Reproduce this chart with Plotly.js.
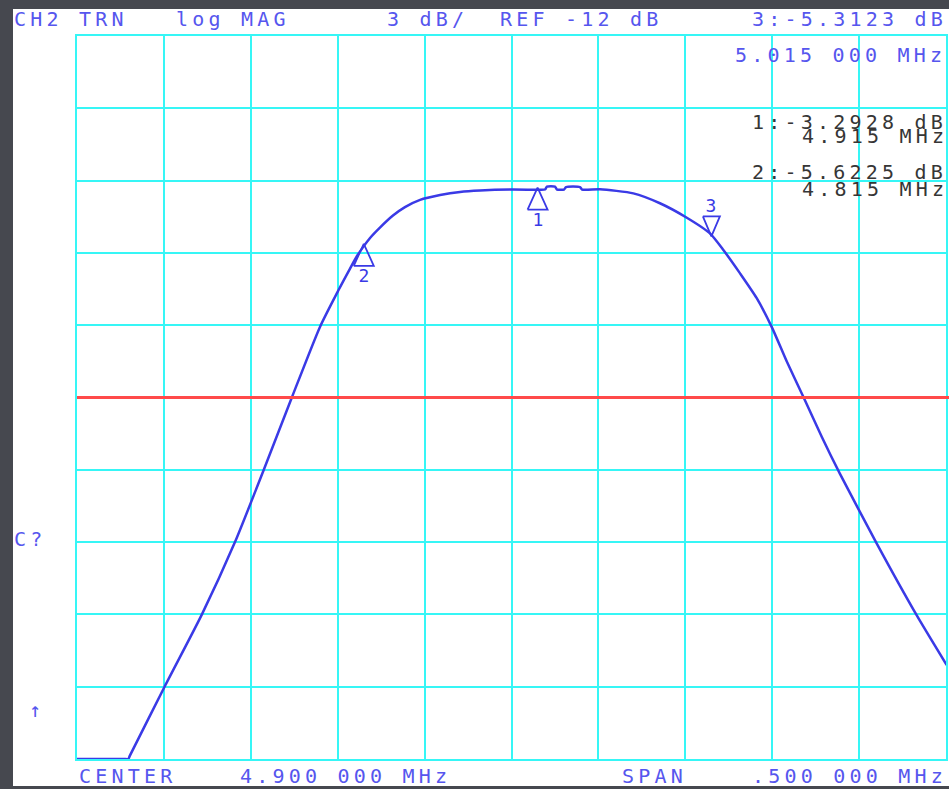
<!DOCTYPE html>
<html>
<head>
<meta charset="utf-8">
<script src="https://cdn.plot.ly/plotly-3.0.1.min.js"></script>
<style>
html,body{margin:0;padding:0;background:#46484f;width:949px;height:789px;overflow:hidden;}
#chart{position:absolute;left:13px;top:9px;width:936px;height:777px;}
.annotation-text{letter-spacing:4.2px;}
</style>
</head>
<body>
<div id="chart"></div>
<script>
const freqMHz = [4.6500, 4.6770, 4.6795, 4.6805, 4.7006, 4.7218, 4.7409, 4.7572, 4.7735, 4.7898, 4.8002,
  4.8071, 4.8111, 4.8146, 4.8186, 4.8243, 4.8318, 4.8387, 4.8474, 4.8589, 4.8704,
  4.8819, 4.9003, 4.9153, 4.9193, 4.9204, 4.9250, 4.9262, 4.9302, 4.9314, 4.9394,
  4.9406, 4.9509, 4.9701, 4.9854, 5.0004, 5.0142, 5.0219, 5.0315, 5.0411, 5.0499,
  5.0584, 5.0683, 5.0785, 5.0890, 5.1101, 5.1331, 5.1504];
const magDb = [-27.00, -27.00, -27.00, -26.85, -23.97, -21.01, -18.00, -15.05, -12.02, -9.07, -7.58,
  -6.65, -6.13, -5.76, -5.38, -4.95, -4.45, -4.10, -3.80, -3.60, -3.47,
  -3.41, -3.37, -3.38, -3.37, -3.25, -3.25, -3.37, -3.37, -3.27, -3.27,
  -3.37, -3.36, -3.53, -3.94, -4.52, -5.19, -5.88, -6.85, -7.88, -9.10,
  -10.51, -12.03, -13.63, -15.17, -18.05, -21.03, -23.10];

const markerIds = ['1', '2', '3'];
const markerFreqMHz = [4.915, 4.815, 5.015];
const markerDb = [-3.2928, -5.6225, -5.3123];
const markerPointsUp = [true, true, false];

const centerMHz = 4.9;
const spanMHz = 0.5;
const refDb = -12;
const dbPerDiv = 3;
const divisions = 10;

const headerTexts = ['CH2 TRN', 'log MAG', '3 dB/', 'REF -12 dB', '3:-5.3123 dB', '5.015 000 MHz'];
const readoutTexts = ['1:-3.2928 dB', '4.915 MHz', '2:-5.6225 dB', '4.815 MHz'];
const footerTexts = ['CENTER', '4.900 000 MHz', 'SPAN', '.500 000 MHz'];
const sideTexts = ['C?', '\u2191'];

// ---- layout geometry (page pixels) ----
const plotLeft = 77, plotTop = 36, plotW = 869, plotH = 723;
const headerPos = [[12, 19], [174, 19], [385, 19], [498, 19], [750, 19], [733, 55]];
const readoutPos = [[750, 122], [800, 136], [750, 172], [800, 189]];
const footerPos = [[77, 776], [238, 776], [620, 776], [750, 776]];
const sidePos = [[12, 539], [27, 710]];
const CHAR_PITCH = 16.3;

const BLUE_TEXT = '#5656ee';
const TRACE = '#3a3ae6';
const GRID = '#36f6f6';
const RED = '#ff4a4a';

const xRange = [centerMHz - spanMHz / 2, centerMHz + spanMHz / 2];
const yRange = [refDb - dbPerDiv * divisions / 2, refDb + dbPerDiv * divisions / 2];
const mhzPerPx = spanMHz / plotW;
const dbPerPx = (dbPerDiv * divisions) / plotH;

function textAnn(text, pos, color, size) {
  return {
    xref: 'paper', yref: 'paper',
    x: (pos[0] - plotLeft) / plotW,
    y: (plotTop + plotH - pos[1]) / plotH,
    xanchor: 'left', yanchor: 'middle', align: 'left',
    width: Math.ceil(text.length * CHAR_PITCH + 6),
    text: text, showarrow: false,
    font: {family: 'DejaVu Sans Mono', size: size || 20, color: color}
  };
}

const annotations = [];
headerTexts.forEach((t, i) => annotations.push(textAnn(t, headerPos[i], BLUE_TEXT)));
readoutTexts.forEach((t, i) => annotations.push(textAnn(t, readoutPos[i], '#363636')));
footerTexts.forEach((t, i) => annotations.push(textAnn(t, footerPos[i], BLUE_TEXT)));
sideTexts.forEach((t, i) => annotations.push(textAnn(t, sidePos[i], BLUE_TEXT)));

const traces = [{
  type: 'scatter', mode: 'lines',
  x: freqMHz, y: magDb,
  line: {color: TRACE, width: 2.5, shape: 'spline', smoothing: 0.6},
  cliponaxis: false, hoverinfo: 'skip'
}];

// marker triangles (tip on the marker point)
markerIds.forEach((id, i) => {
  const up = markerPointsUp[i];
  const halfW = (up ? 10 : 8.5) * mhzPerPx;
  const h = (up ? 22 : 20) * dbPerPx;
  const f = markerFreqMHz[i], d = markerDb[i];
  const baseY = up ? d - h : d + h;
  traces.push({
    type: 'scatter', mode: 'lines',
    x: [f - halfW, f, f + halfW, f - halfW],
    y: [baseY, d, baseY, baseY],
    line: {color: TRACE, width: 1.8},
    cliponaxis: false, hoverinfo: 'skip'
  });
  annotations.push({
    xref: 'x', yref: 'y', x: f, y: d,
    xanchor: 'center', yanchor: 'middle',
    xshift: 2, yshift: up ? -32 : 31,
    width: 22,
    text: id, showarrow: false,
    font: {family: 'DejaVu Sans Mono', size: 18, color: TRACE}
  });
});

const axisCommon = {
  showticklabels: false, ticks: '', showgrid: true,
  gridcolor: GRID, gridwidth: 2,
  showline: true, linecolor: GRID, linewidth: 2, mirror: true,
  zeroline: false, fixedrange: true
};

const layout = {
  width: 936, height: 777,
  margin: {l: plotLeft - 13, r: 936 - (plotLeft - 13) - plotW, t: plotTop - 9, b: 777 - (plotTop - 9) - plotH},
  paper_bgcolor: '#ffffff', plot_bgcolor: '#ffffff',
  showlegend: false,
  xaxis: Object.assign({range: xRange, tick0: xRange[0], dtick: spanMHz / divisions}, axisCommon),
  yaxis: Object.assign({range: yRange, tick0: yRange[0], dtick: dbPerDiv}, axisCommon),
  shapes: [{
    type: 'line', layer: 'above',
    xref: 'paper', x0: 0, x1: 1.004,
    yref: 'y', y0: refDb, y1: refDb,
    line: {color: RED, width: 3}
  }],
  annotations: annotations
};

Plotly.newPlot('chart', traces, layout, {staticPlot: true, displayModeBar: false});
</script>
</body>
</html>
